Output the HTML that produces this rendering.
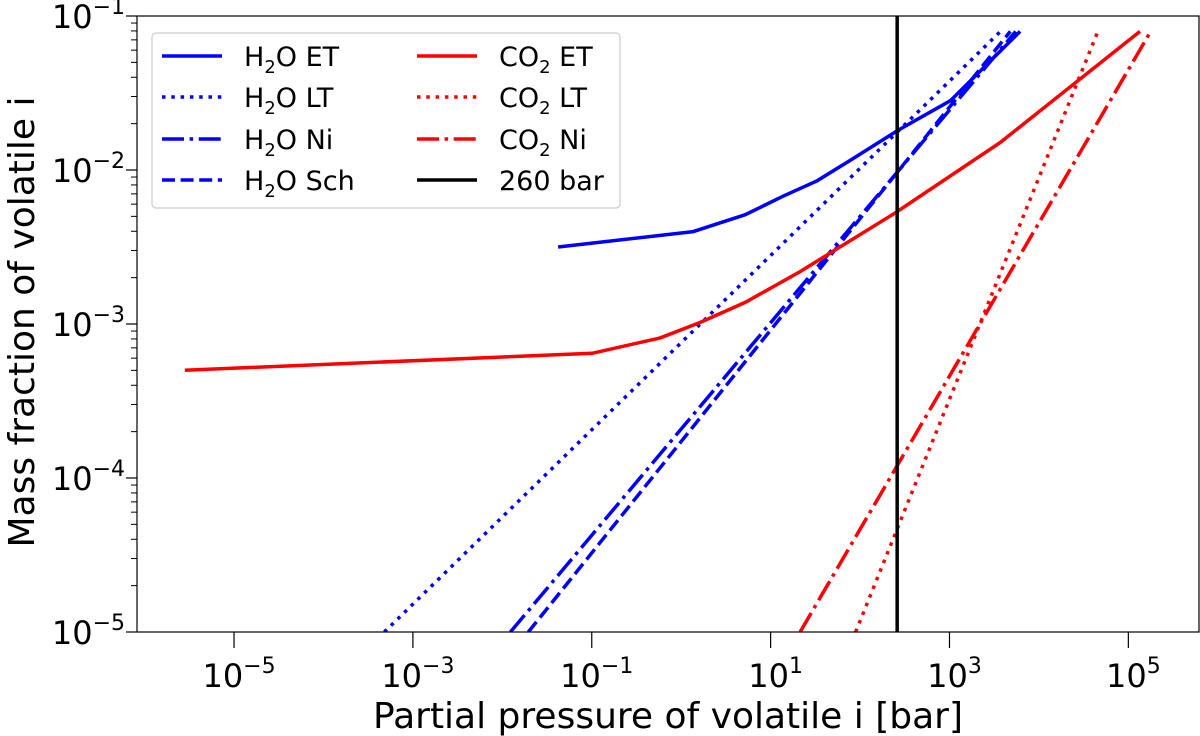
<!DOCTYPE html>
<html><head><meta charset="utf-8"><style>
body{margin:0;background:#fff;}
svg{display:block;font-family:"DejaVu Sans","Liberation Sans",sans-serif;}
</style></head><body>
<svg id="chart" width="1200" height="736"></svg>
<script>
// Data (log10 values)
const h2oEtX=[-1.376,0.134,0.716,1.14,1.52,1.91,2.43,3.01,3.79];
const h2oEtY=[-2.50,-2.40,-2.29,-2.17,-2.07,-1.93,-1.74,-1.55,-1.10];
const h2oLtX=[-3.32,3.57]; const h2oLtY=[-5,-1.10];
const h2oNiX=[-1.91,3.74]; const h2oNiY=[-5,-1.10];
const h2oSchX=[-1.71,3.68]; const h2oSchY=[-5,-1.10];
const co2EtX=[-5.55,-0.995,-0.235,0.21,0.716,1.33,2.39,3.57,5.13];
const co2EtY=[-3.30,-3.19,-3.09,-2.99,-2.86,-2.66,-2.28,-1.82,-1.10];
const co2LtX=[1.95,4.66]; const co2LtY=[-5,-1.10];
const co2NiX=[1.33,5.25]; const co2NiY=[-5,-1.10];
const refPressure=260;
const xTicks=[-5,-3,-1,1,3,5];
const yTicks=[-5,-4,-3,-2,-1];

const L=137,R=1199,T=16,B=632;
const xMin=-6.085,xMax=5.79,yMin=-5,yMax=-1;
const sx=v=>L+(v-xMin)/(xMax-xMin)*(R-L);
const sy=v=>B-(v-yMin)/(yMax-yMin)*(B-T);
const svg=document.getElementById('chart');
const NS='http://www.w3.org/2000/svg';
function mk(tag,attrs,parent){const e=document.createElementNS(NS,tag);for(const k in attrs)e.setAttribute(k,attrs[k]);(parent||svg).appendChild(e);return e;}

const defs=mk('defs',{});
const cp=mk('clipPath',{id:'clip'},defs);
mk('rect',{x:L,y:T,width:R-L,height:B-T},cp);

const plot=mk('g',{'clip-path':'url(#clip)'});



const DOT='3.5,5.8',DASH='13,5.6',DD='22,5.6,3.5,5.6';
const series=[
 ['h2o-et-line',h2oEtX,h2oEtY,'#0000ff',null],
 ['h2o-lt-line',h2oLtX,h2oLtY,'#0000ff',DOT],
 ['h2o-ni-line',h2oNiX,h2oNiY,'#0000ff',DD],
 ['h2o-sch-line',h2oSchX,h2oSchY,'#0000ff',DASH],
 ['co2-et-line',co2EtX,co2EtY,'#ff0000',null],
 ['co2-lt-line',co2LtX,co2LtY,'#ff0000',DOT],
 ['co2-ni-line',co2NiX,co2NiY,'#ff0000',DD]
];
series.forEach(s=>{
 const pts=s[1].map((x,i)=>sx(x).toFixed(1)+','+sy(s[2][i]).toFixed(1)).join(' ');
 const a={points:pts,fill:'none',stroke:s[3],'stroke-width':3.5};
 if(s[4])a['stroke-dasharray']=s[4];
 const p=mk('polyline',a,plot);
 
 
});
const vx=sx(Math.log10(refPressure));
const vl=mk('line',{x1:vx,x2:vx,y1:T,y2:B,stroke:'#000','stroke-width':3.5},plot);



const fr=mk('rect',{x:L,y:T,width:R-L,height:B-T,fill:'none',stroke:'#000','stroke-width':1.2});



xTicks.forEach(t=>{
 const x=sx(t);
 mk('line',{x1:x,x2:x,y1:B,y2:B+16,stroke:'#000','stroke-width':1.2});
 const tx=mk('text',{x:x+5,y:B+55,'font-size':32,'text-anchor':'middle'});
 
 
 tx.innerHTML='10<tspan dy="-14" font-size="22">'+(t<0?'\u2212':'')+Math.abs(t)+'</tspan>';
});
yTicks.forEach(t=>{
 const y=sy(t);
 mk('line',{x1:L-11,x2:L,y1:y,y2:y,stroke:'#000','stroke-width':1.2});
 const tx=mk('text',{x:L-12,y:y+12,'font-size':32,'text-anchor':'end'});
 
 
 tx.innerHTML='10<tspan dy="-14" font-size="22">\u2212'+Math.abs(t)+'</tspan>';
 if(t<yMax){for(let m=2;m<=9;m++){const ym=sy(t+Math.log10(m));mk('line',{x1:L-6,x2:L,y1:ym,y2:ym,stroke:'#000','stroke-width':1});}}
});

const xl=mk('text',{x:668,y:728,'font-size':36,'text-anchor':'middle'});


xl.textContent='Partial pressure of volatile i [bar]';
const yl=mk('text',{x:34,y:322,'font-size':36,'text-anchor':'middle',transform:'rotate(-90 34 322)'});


yl.textContent='Mass fraction of volatile i';

const lg=mk('g',{});


mk('rect',{x:152,y:33,width:468,height:175,rx:4,fill:'#fff',stroke:'#ccc','stroke-width':1.2},lg);
const sub=(a,b)=>a+'<tspan font-size="18" dy="7">2</tspan><tspan dy="-7">'+b+'</tspan>';
const entries=[
 [162,56,'#0000ff',null,sub('H','O ET')],
 [162,97,'#0000ff',DOT,sub('H','O LT')],
 [162,139,'#0000ff',DD,sub('H','O Ni')],
 [162,180,'#0000ff',DASH,sub('H','O Sch')],
 [417,56,'#ff0000',null,sub('CO',' ET')],
 [417,97,'#ff0000',DOT,sub('CO',' LT')],
 [417,139,'#ff0000',DD,sub('CO',' Ni')],
 [417,180,'#000000',null,'260 bar']
];
entries.forEach(e=>{
 const g=mk('g',{},lg);
 
 
 const a={x1:e[0],x2:e[0]+60,y1:e[1],y2:e[1],stroke:e[2],'stroke-width':3.5};
 if(e[3])a['stroke-dasharray']=e[3];
 mk('line',a,g);
 const t=mk('text',{x:e[0]+82,y:e[1]+10,'font-size':27},g);
 t.innerHTML=e[4];
});
</script>
</body></html>
